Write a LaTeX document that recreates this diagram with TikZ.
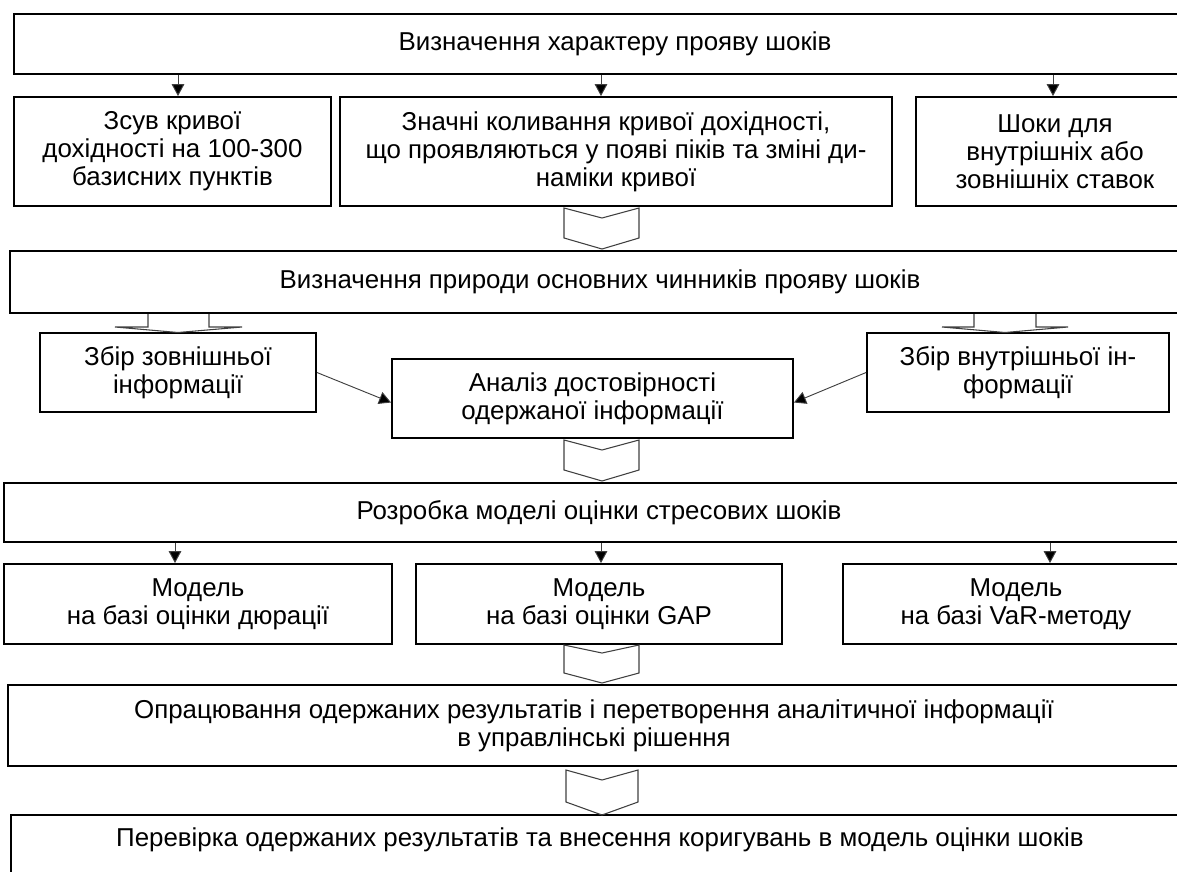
\documentclass[tikz,border=0pt]{standalone}
\usepackage{fontspec}
\setmainfont{Liberation Sans}
\usetikzlibrary{calc,arrows.meta}
\begin{document}
\begin{tikzpicture}[x=0.75pt,y=-0.75pt,
  box/.style={draw=black,line width=1.4pt,align=center,inner sep=0pt,font=\fontsize{19.4}{21}\selectfont},
  arr/.style={draw=black!75,line width=0.7pt,-{Triangle[length=9pt,width=9.5pt,fill=black]}},
  chev/.style={draw=black!75,line width=0.8pt,line join=miter}]
\useasboundingbox (0,0) rectangle (1177,871);
\clip (0,0) rectangle (1177,871);

\node[box,minimum width=901.5pt,minimum height=45pt] (b1) at (615,44) {Визначення характеру прояву шоків};
\node[box,minimum width=237.75pt,minimum height=81.75pt] (A) at (172.5,151.5) {Зсув кривої\\дохідності на 100-300\\базисних пунктів};
\node[box,minimum width=414pt,minimum height=81.75pt] (B) at (616,151.5) {Значні коливання кривої дохідності,\\що проявляються у появі піків та зміні ди-\\наміки кривої};
\node[box,minimum width=208.5pt,minimum height=81.75pt] (C) at (1055,151.5) {Шоки для\\внутрішніх або\\зовнішніх ставок};

\node[box,minimum width=885pt,minimum height=46.5pt] (b2) at (600,282) {Визначення природи основних чинників прояву шоків};
\node[box,minimum width=207pt,minimum height=59.25pt] (D) at (178,372.5) {Збір зовнішньої\\інформації};
\node[box,minimum width=300.75pt,minimum height=59.25pt] (E) at (592.5,398.5) {Аналіз достовірності\\одержаної інформації};
\node[box,minimum width=226.5pt,minimum height=59.25pt] (F) at (1018,372.5) {Збір внутрішньої ін-\\формації};

\node[box,minimum width=892.5pt,minimum height=44.25pt] (b3) at (599,512.5) {Розробка моделі оцінки стресових шоків};
\node[box,minimum width=291pt,minimum height=60pt] (G) at (198,604) {Модель\\на базі оцінки дюрації};
\node[box,minimum width=274.5pt,minimum height=60pt] (H) at (599,604) {Модель\\на базі оцінки GAP};
\node[box,minimum width=259.5pt,minimum height=60pt] (I) at (1016,604) {Модель\\на базі VaR-методу};

\node[box,minimum width=879pt,minimum height=60.75pt] (b4) at (594,725.5) {Опрацювання одержаних результатів і перетворення аналітичної інформації\\в управлінські рішення};
\node[box,minimum width=883.5pt,anchor=north,inner ysep=6pt,text height=17.5pt,text depth=30pt] (b5) at (600,814) {Перевірка одержаних результатів та внесення коригувань в модель оцінки шоків};

% thin arrows
\draw[arr] ($(b1.south -| A.north)+(5.5,0)$) -- ($(A.north)+(5.5,0)$);
\draw[arr] ($(b1.south -| B.north)+(-15,0)$) -- ($(B.north)+(-15,0)$);
\draw[arr] ($(b1.south -| C.north)+(-2,0)$) -- ($(C.north)+(-2,0)$);
\draw[arr] ($(b3.south -| G.north)+(-23,0)$) -- ($(G.north)+(-23,0)$);
\draw[arr] ($(b3.south -| H.north)+(2,0)$) -- ($(H.north)+(2,0)$);
\draw[arr] ($(b3.south -| I.north)+(34,0)$) -- ($(I.north)+(34,0)$);
\draw[arr] (D.east) -- ([yshift=-3pt]E.west);
\draw[arr] (F.west) -- ([yshift=-3pt]E.east);

% chevrons
\draw[chev] (564,208) -- (602,218) -- (639,208) -- (639,238) -- (602,249) -- (564,238) -- cycle;
\draw[chev] (564,440) -- (602,450) -- (639,440) -- (639,470) -- (602,481) -- (564,470) -- cycle;
\draw[chev] (564,645) -- (602,653) -- (639,645) -- (639,673) -- (602,683) -- (564,673) -- cycle;
\draw[chev] (566,770) -- (602,780) -- (638,770) -- (638,802) -- (602,815) -- (566,802) -- cycle;

% flat block arrows
\draw[chev] (148,314) -- (148,327) -- (115,327) -- (178,332.5) -- (242,327) -- (209,327) -- (209,314);
\draw[chev] (974,314) -- (974,327) -- (942,327) -- (1005,332.5) -- (1068,327) -- (1036,327) -- (1036,314);
\end{tikzpicture}
\end{document}
